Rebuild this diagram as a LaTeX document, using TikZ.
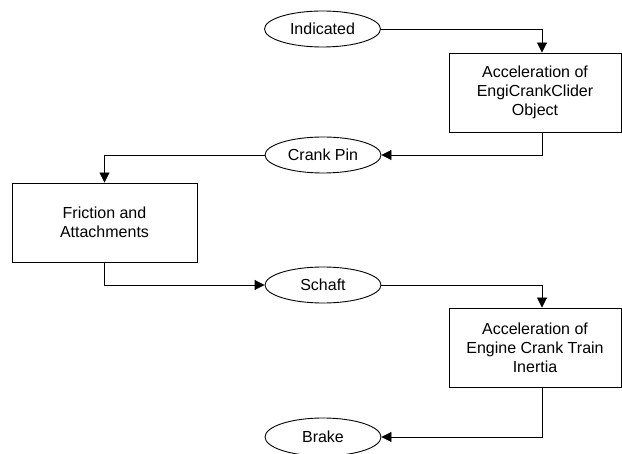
\documentclass[tikz,border=0pt]{standalone}
\usepackage{fontspec}
\setmainfont{Liberation Sans}
\usetikzlibrary{arrows.meta,shapes.geometric}
\begin{document}
\begin{tikzpicture}[x=1pt,y=-1pt,
  every node/.style={font=\fontsize{16}{19}\selectfont},
  ell/.style={ellipse, draw, line width=0.9pt, minimum width=116pt, minimum height=36pt, inner sep=0pt},
  blk/.style={rectangle, draw, line width=0.9pt, minimum width=172pt, minimum height=79pt, align=center, inner sep=0pt},
  conn/.style={line width=0.9pt, -{Triangle[length=10pt,width=10pt]}}]
\useasboundingbox (0,0) rectangle (622,454);
\node[ell] (ind) at (322.5,29) {Indicated};
\node[blk] (box1) at (535,92.5) {Acceleration of\\EngiCrankClider\\Object};
\node[ell] (crank) at (323,155) {Crank Pin};
\node[blk, minimum width=185pt] (box2) at (104.5,222.5) {Friction and\\Attachments};
\node[ell] (schaft) at (323,285) {Schaft};
\node[blk] (box3) at (535,347.5) {Acceleration of\\Engine Crank Train\\Inertia};
\node[ell, minimum height=38pt] (brake) at (323,437) {Brake};
\draw[conn] (ind.east) -| ([xshift=7pt]box1.north);
\draw[conn] ([xshift=7pt]box1.south) |- (crank.east);
\draw[conn] (crank.west) -| (box2.north);
\draw[conn] (box2.south) |- (schaft.west);
\draw[conn] (schaft.east) -| ([xshift=7pt]box3.north);
\draw[conn] ([xshift=7pt]box3.south) |- (brake.east);
\end{tikzpicture}
\end{document}
